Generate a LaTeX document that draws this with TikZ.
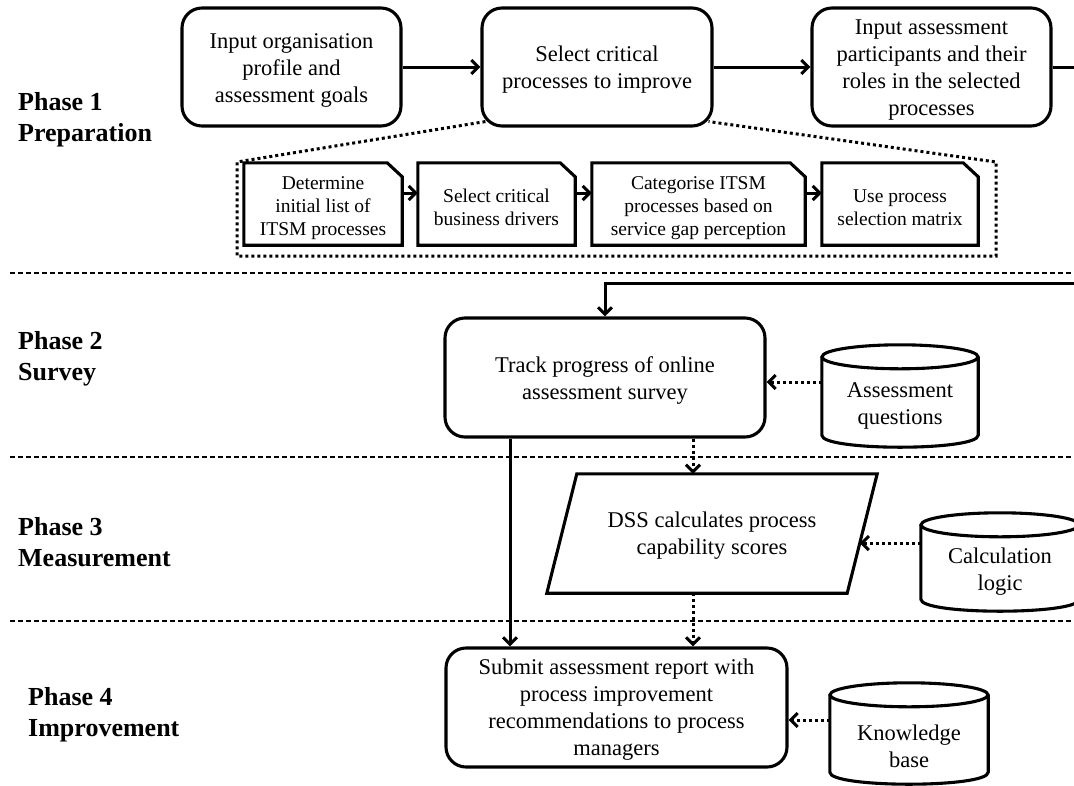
\documentclass[tikz,border=0pt]{standalone}
\usepackage{fontspec}
\setmainfont{Liberation Serif}
\usetikzlibrary{arrows.meta,calc}
\newcommand\bigtxt{\fontsize{22.5}{27}\selectfont}
\newcommand\smalltxt{\fontsize{19.5}{23}\selectfont}
\newcommand\phasetxt{\fontsize{26}{31}\selectfont\bfseries}
\newcommand\lowr[1]{\rule{0pt}{#1}}
\newcommand\docshape[1]{\draw[line width=3.1pt, line join=miter] (#1.north west) -- ([xshift=-15pt]#1.north east) -- ([yshift=-14pt]#1.north east) -- (#1.south east) -- (#1.south west) -- cycle;}
\newcommand\cylshape[2]{%
  \draw[line width=3.1pt] ([yshift=-12pt]#1.north west) -- ([yshift=12pt]#1.south west) .. controls ([yshift=-4pt]#1.south west) and ([yshift=-4pt]#1.south east) .. ([yshift=12pt]#1.south east) -- ([yshift=-12pt]#1.north east);
  \draw[line width=3.1pt] ([yshift=-12pt]#1.north) ellipse [x radius=#2, y radius=12pt];}
\tikzset{
  box/.style={draw, line width=3.1pt, rounded corners=20pt, align=center, font=\bigtxt, inner sep=0pt},
  doc/.style={align=center, font=\smalltxt, inner sep=0pt},
  plain/.style={inner sep=0pt, align=center},
  arr/.style={line width=3pt, -{Straight Barb[length=7pt,width=14pt]}},
  darr/.style={arr, dash pattern=on 3pt off 3pt},
  dots/.style={line width=3pt, dash pattern=on 3pt off 3pt},
  sep/.style={line width=1.1pt, dash pattern=on 5pt off 3pt},
  phase/.style={anchor=west, align=left, font=\phasetxt, inner sep=0pt}
}
\begin{document}
\begin{tikzpicture}[x=1pt,y=-1pt]
\useasboundingbox (0,0) rectangle (1074,785);
\clip (0,0) rectangle (1074,785);
\fill[white] (0,0) rectangle (1074,785);

% phase labels
\node[phase] (ph1) at (18,120) {Phase 1\\Preparation};
\node[phase] (ph2) at (18,359) {Phase 2\\Survey};
\node[phase] (ph3) at (18,542) {Phase 3\\Measurement};
\node[phase] (ph4) at (28,715) {Phase 4\\Improvement};

% separators
\draw[sep] (10,273) -- (1074,273);
\draw[sep] (10,457) -- (1074,457);
\draw[sep] (10,621) -- (1074,621);

% phase 1 boxes
\node[box, minimum width=219pt, minimum height=118pt] (A) at (291.5,67) {\lowr{21.5pt}Input organisation\\profile and\\assessment goals};
\node[box, minimum width=230pt, minimum height=118pt] (B) at (597,67) {\lowr{21.5pt}Select critical\\processes to improve};
\node[box, minimum width=239pt, minimum height=118pt] (C) at (931.5,67) {\lowr{21.5pt}Input assessment\\participants and their\\roles in the selected\\processes};
\draw[arr] (A) -- (B);
\draw[arr] (B) -- (C);

% dotted expansion
\coordinate (t1) at (237,162);
\coordinate (t2) at (237,256);
\coordinate (t3) at (996,256);
\coordinate (t4) at (996,162);
\draw[dots] ([shift={(5pt,6pt)}]B.south west) -- (t1) -- (t2) -- (t3) -- (t4) -- ([shift={(-5pt,6pt)}]B.south east);

% document boxes
\node[doc, minimum width=158pt, minimum height=82pt] (d1) at (323,204) {\lowr{21pt}Determine\\initial list of\\ITSM processes};
\node[doc, minimum width=157pt, minimum height=82pt] (d2) at (496.5,204) {\lowr{21pt}Select critical\\business drivers};
\node[doc, minimum width=213pt, minimum height=82pt] (d3) at (698.5,204) {\lowr{21pt}Categorise ITSM\\processes based on\\service gap perception};
\node[doc, minimum width=156pt, minimum height=82pt] (d4) at (900,204) {\lowr{21pt}Use process\\selection matrix};
\docshape{d1}\docshape{d2}\docshape{d3}\docshape{d4}
\draw[arr] (d1.east |- 0,193) -- (d2.west |- 0,193);
\draw[arr] (d2.east |- 0,193) -- (d3.west |- 0,193);
\draw[arr] (d3.east |- 0,193) -- (d4.west |- 0,193);

% phase 2
\node[box, minimum width=320pt, minimum height=119pt] (D) at (605,377.5) {\lowr{22pt}Track progress of online\\assessment survey};
\coordinate (loop) at (1090,283);
\draw[arr] (C.east) -| (loop) -| (D.north);

\node[plain, minimum width=156pt, minimum height=102pt] (aq) at (900,396) {};
\cylshape{aq}{78pt}
\node[plain, font=\bigtxt] (aqt) at (900,406) {Assessment\\questions};
\draw[darr] (aq.west |- 0,382) -- (D.east |- 0,382);

% phase 3
\node[plain, font=\bigtxt, minimum width=330pt, minimum height=119pt] (p) at (712,533.5) {\lowr{19.5pt}DSS calculates process\\capability scores};
\draw[line width=3.1pt] ([xshift=30pt]p.north west) -- (p.north east) -- ([xshift=-30pt]p.south east) -- (p.south west) -- cycle;
\coordinate (pr) at ($(p.north east)!0.58!([xshift=-30pt]p.south east)$);
\draw[darr] (693,0 |- D.south) -- (693,0 |- p.north);

\node[plain, minimum width=158pt, minimum height=98pt] (cl) at (1000,562) {};
\cylshape{cl}{79pt}
\node[plain, font=\bigtxt] (clt) at (1000,572) {Calculation\\logic};
\draw[darr] (cl.west |- pr) -- (pr);

% phase 4
\node[box, minimum width=341pt, minimum height=119pt] (E) at (616.5,707.5) {\lowr{19.5pt}Submit assessment report with\\process improvement\\recommendations to process\\managers};
\draw[arr] (510,0 |- D.south) -- (510,0 |- E.north);
\draw[darr] (693,0 |- p.south) -- (693,0 |- E.north);

\node[plain, minimum width=158pt, minimum height=101pt] (kb) at (909,733.5) {};
\cylshape{kb}{79pt}
\node[plain, font=\bigtxt] (kbt) at (909,746) {Knowledge\\base};
\draw[darr] (kb.west |- 0,720) -- (E.east |- 0,720);
\end{tikzpicture}
\end{document}
